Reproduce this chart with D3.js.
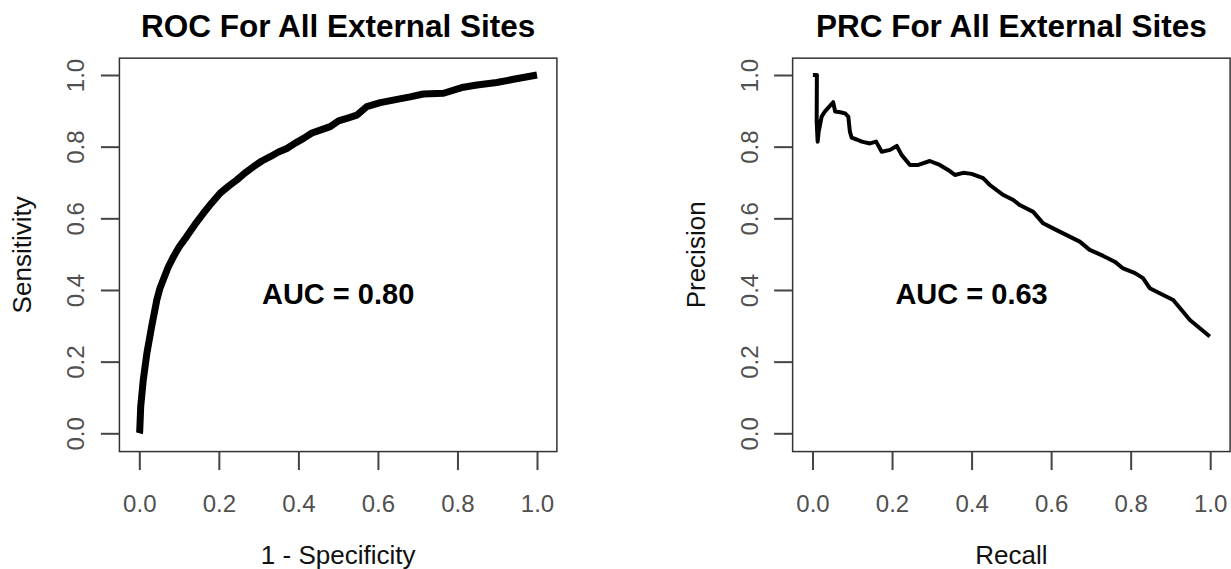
<!DOCTYPE html>
<html>
<head>
<meta charset="utf-8">
<script src="https://cdn.jsdelivr.net/npm/d3@7"></script>
<style>
  html, body { margin: 0; padding: 0; background: #fff; }
  svg { display: block; font-family: "Liberation Sans", Arial, Helvetica, sans-serif; }
</style>
</head>
<body>
<svg id="chart" width="1231" height="569"></svg>
<script>
// ---------- data ----------
const tickValues = [0, 0.2, 0.4, 0.6, 0.8, 1.0];

const rocFPR = [0, 0.001, 0.0035, 0.010, 0.019, 0.031, 0.044, 0.052, 0.060, 0.072, 0.086, 0.100, 0.119, 0.140, 0.161,
  0.182, 0.203, 0.225, 0.245, 0.266, 0.287, 0.308, 0.329, 0.350, 0.371, 0.392, 0.413, 0.434, 0.455, 0.480, 0.501,
  0.522, 0.547, 0.572, 0.606, 0.648, 0.681, 0.714, 0.765, 0.815, 0.849, 0.899, 0.941, 1.0];
const rocTPR = [0, 0.004, 0.074, 0.149, 0.223, 0.298, 0.372, 0.405, 0.428, 0.462, 0.493, 0.520, 0.549, 0.583, 0.614,
  0.643, 0.670, 0.690, 0.707, 0.727, 0.744, 0.760, 0.772, 0.785, 0.795, 0.810, 0.823, 0.838, 0.846, 0.856, 0.872,
  0.879, 0.888, 0.912, 0.923, 0.932, 0.939, 0.947, 0.949, 0.966, 0.972, 0.979, 0.988, 1.0];

const prcRecall = [0.001, 0.011, 0.0105, 0.013, 0.018, 0.016, 0.023, 0.031, 0.052, 0.057, 0.070, 0.082, 0.090, 0.094,
  0.0985, 0.111, 0.124, 0.1445, 0.160, 0.174, 0.195, 0.212, 0.224, 0.245, 0.266, 0.295, 0.320, 0.341, 0.358, 0.379,
  0.400, 0.429, 0.446, 0.480, 0.505, 0.521, 0.555, 0.580, 0.605, 0.639, 0.672, 0.697, 0.731, 0.760, 0.781, 0.811,
  0.831, 0.848, 0.873, 0.907, 0.928, 0.949, 0.974, 0.999];
const prcPrecision = [1.0, 1.0, 0.870, 0.814, 0.870, 0.845, 0.884, 0.898, 0.924, 0.898, 0.896, 0.893, 0.884, 0.842,
  0.825, 0.820, 0.814, 0.809, 0.814, 0.786, 0.791, 0.802, 0.777, 0.749, 0.749, 0.760, 0.749, 0.735, 0.721, 0.727,
  0.724, 0.712, 0.693, 0.665, 0.651, 0.637, 0.618, 0.586, 0.572, 0.553, 0.535, 0.512, 0.495, 0.479, 0.460, 0.447,
  0.433, 0.405, 0.391, 0.372, 0.344, 0.316, 0.293, 0.270];

const panels = [
  { title: "ROC For All External Sites", xlab: "1 - Specificity", ylab: "Sensitivity",
    xs: rocFPR, ys: rocTPR, auc: "AUC = 0.80", aucX: 0.5, lw: 7, x0: 139.3 },
  { title: "PRC For All External Sites", xlab: "Recall", ylab: "Precision",
    xs: prcRecall, ys: prcPrecision, auc: "AUC = 0.63", aucX: 0.4, lw: 4, x0: 812.5 }
];

// ---------- drawing ----------
const svg = d3.select("#chart");
const unitW = 397.7;
const yTop = 75, yBot = 433.3;

panels.forEach(p => {
  const x = d3.scaleLinear().domain([0, 1]).range([p.x0, p.x0 + unitW]);
  const y = d3.scaleLinear().domain([0, 1]).range([yBot, yTop]);
  const bx0 = x(-0.05), bx1 = x(1.05), by0 = y(1.047), by1 = y(-0.051);
  const g = svg.append("g");

  // curve
  const line = d3.line().x((d, i) => x(p.xs[i])).y((d, i) => y(p.ys[i]));
  g.append("path")
    .attr("d", line(p.xs))
    .attr("fill", "none")
    .attr("stroke", "#000")
    .attr("stroke-width", p.lw)
    .attr("stroke-linejoin", "round")
    .attr("stroke-linecap", "butt");

  // box
  g.append("rect")
    .attr("x", bx0).attr("y", by0)
    .attr("width", bx1 - bx0).attr("height", by1 - by0)
    .attr("fill", "none").attr("stroke", "#333").attr("stroke-width", 1.5);

  // x axis
  const xa = g.append("g").attr("transform", `translate(0,${by1})`)
    .call(d3.axisBottom(x).tickValues(tickValues).tickSize(18.5).tickFormat(d3.format(".1f")));
  xa.select(".domain").remove();
  xa.selectAll(".tick line").attr("stroke", "#444").attr("stroke-width", 2);
  xa.selectAll(".tick text")
    .attr("y", 60).attr("dy", 0)
    .attr("fill", "#505050").attr("font-size", 24)
    .attr("font-family", "'Liberation Sans', Arial, sans-serif");

  // y axis
  const ya = g.append("g").attr("transform", `translate(${bx0},0)`)
    .call(d3.axisLeft(y).tickValues(tickValues).tickSize(18.5).tickFormat(d3.format(".1f")));
  ya.select(".domain").remove();
  ya.selectAll(".tick line").attr("stroke", "#444").attr("stroke-width", 2);
  ya.selectAll(".tick text")
    .attr("x", null).attr("dy", null)
    .attr("transform", "translate(-35,0) rotate(-90)")
    .attr("text-anchor", "middle")
    .attr("fill", "#505050").attr("font-size", 24)
    .attr("font-family", "'Liberation Sans', Arial, sans-serif");

  const cx = (bx0 + bx1) / 2, cy = (by0 + by1) / 2;

  // title
  g.append("text").attr("x", cx).attr("y", 37.3)
    .attr("text-anchor", "middle").attr("font-weight", "bold").attr("font-size", 31.5)
    .attr("fill", "#000").text(p.title);

  // x label
  g.append("text").attr("x", cx).attr("y", 564)
    .attr("text-anchor", "middle").attr("font-size", 26).attr("fill", "#111").text(p.xlab);

  // y label
  g.append("text")
    .attr("transform", `translate(${bx0 - 88},${cy}) rotate(-90)`)
    .attr("text-anchor", "middle").attr("font-size", 26).attr("fill", "#111").text(p.ylab);

  // AUC
  g.append("text").attr("x", x(p.aucX)).attr("y", y(0.4)).attr("dy", "0.48em")
    .attr("text-anchor", "middle").attr("font-weight", "bold").attr("font-size", 29)
    .attr("fill", "#000").text(p.auc);
});
</script>
</body>
</html>
